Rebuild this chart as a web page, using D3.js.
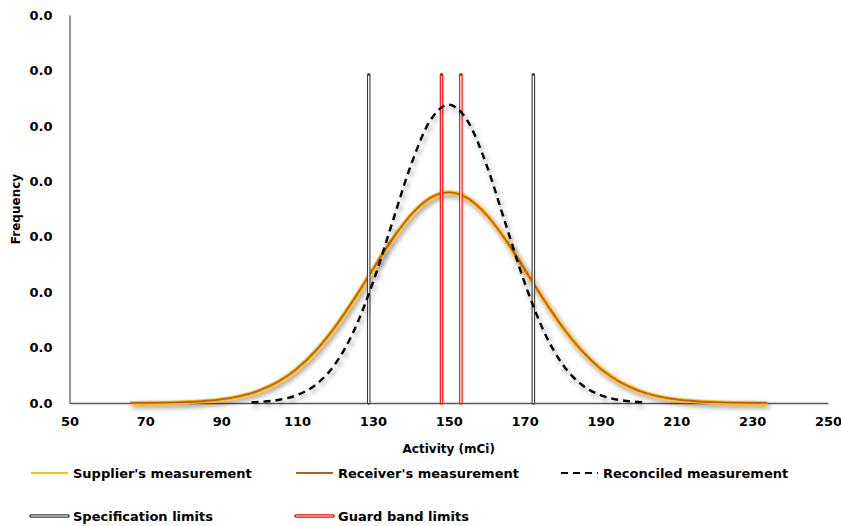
<!DOCTYPE html>
<html>
<head>
<meta charset="utf-8">
<script src="https://cdn.jsdelivr.net/npm/d3@7"></script>
<style>
  html, body { margin: 0; padding: 0; background: #fff; }
  svg { display: block; font-family: "DejaVu Sans", sans-serif; font-weight: bold; }
</style>
</head>
<body>
<svg id="chart" width="841" height="526"></svg>
<script>
// Activity values (mCi) at which the distributions are sampled
const supplierX = [66, 70, 75, 80, 85, 90, 95, 100, 105, 110, 115, 120, 125, 130, 135, 140, 145, 150,
                   155, 160, 165, 170, 175, 180, 185, 190, 195, 200, 205, 210, 215, 220, 225, 230, 234];
// Frequency of the supplier's measurement
const supplierY = [0.000006, 0.000013, 0.000032, 0.000074, 0.000158, 0.00032, 0.00062, 0.00112, 0.00191,
                   0.00310, 0.00474, 0.00685, 0.00935, 0.01207, 0.01472, 0.01696, 0.01847, 0.01900,
                   0.01847, 0.01696, 0.01472, 0.01207, 0.00935, 0.00685, 0.00474, 0.00310, 0.00191,
                   0.00112, 0.00062, 0.00032, 0.000158, 0.000074, 0.000032, 0.000013, 0.000006];
// Frequency of the receiver's measurement (same activity grid)
const receiverY = [0.000006, 0.000013, 0.000032, 0.000074, 0.000158, 0.00032, 0.00062, 0.00112, 0.00191,
                   0.00310, 0.00474, 0.00685, 0.00935, 0.01207, 0.01472, 0.01696, 0.01847, 0.01900,
                   0.01847, 0.01696, 0.01472, 0.01207, 0.00935, 0.00685, 0.00474, 0.00310, 0.00191,
                   0.00112, 0.00062, 0.00032, 0.000158, 0.000074, 0.000032, 0.000013, 0.000006];
// Reconciled measurement
const reconciledX = [98, 100, 105, 110, 115, 120, 125, 130, 135, 140, 145, 150,
                     155, 160, 165, 170, 175, 180, 185, 190, 195, 200, 202];
const reconciledY = [0.000058, 0.000093, 0.000273, 0.000715, 0.00167, 0.00349, 0.00652, 0.01086, 0.01615,
                     0.02144, 0.02542, 0.02690, 0.02542, 0.02144, 0.01615, 0.01086, 0.00652, 0.00349,
                     0.00167, 0.000715, 0.000273, 0.000093, 0.000058];
// Limits (mCi) and the height the limit markers reach
const specLimits = [128.9, 172.3];
const guardLimits = [148.1, 153.2];
const limitTop = 0.0296;

const xTicks = [50, 70, 90, 110, 130, 150, 170, 190, 210, 230, 250];
const yTicks = [0, 0.005, 0.010, 0.015, 0.020, 0.025, 0.030, 0.035];

const legendItems = [
  { label: "Supplier's measurement", kind: "supplier" },
  { label: "Receiver's measurement", kind: "receiver" },
  { label: "Reconciled measurement", kind: "reconciled" },
  { label: "Specification limits", kind: "spec" },
  { label: "Guard band limits", kind: "guard" }
];

const colors = {
  supplier: "#FFC000",
  receiver: "#C55A11",
  reconciled: "#000000",
  spec: "#404040",
  guard: "#FF0000",
  axis: "#595959"
};

const FONT = "'DejaVu Sans', sans-serif";
const svg = d3.select("#chart");
const margin = { left: 69.5, right: 841 - 828, top: 15, bottom: 526 - 403 };
const W = 841, H = 526;

const x = d3.scaleLinear().domain([50, 250]).range([margin.left, W - margin.right]);
const y = d3.scaleLinear().domain([0, 0.035]).range([H - margin.bottom, margin.top]);

// soft grey drop shadow under the distribution curves
const defs = svg.append("defs");
const f = defs.append("filter").attr("id", "shadow")
  .attr("x", "-10%").attr("y", "-10%").attr("width", "130%").attr("height", "140%");
f.append("feDropShadow").attr("dx", 2).attr("dy", 3).attr("stdDeviation", 2.6)
  .attr("flood-color", "#000").attr("flood-opacity", 0.45);

// axes
const xAxis = d3.axisBottom(x).tickValues(xTicks).tickSize(0).tickPadding(14).tickFormat(d3.format("d"));
const yAxis = d3.axisLeft(y).tickValues(yTicks).tickSize(0).tickPadding(17).tickFormat(d3.format(".1f"));

const gx = svg.append("g").attr("transform", `translate(0,${y(0)})`).call(xAxis);
const gy = svg.append("g").attr("transform", `translate(${x(50)},0)`).call(yAxis);
[gx, gy].forEach(g => {
  g.select(".domain").attr("stroke", colors.axis).attr("stroke-width", 1.3);
  g.selectAll("text").attr("font-size", 13).attr("font-weight", "bold")
    .attr("fill", "#000").attr("font-family", FONT);
});

svg.append("text").attr("x", x(150)).attr("y", 453).attr("text-anchor", "middle")
  .attr("font-size", 12).text("Activity (mCi)");
svg.append("text").attr("transform", `translate(20,${(y(0) + y(0.035)) / 2}) rotate(-90)`)
  .attr("text-anchor", "middle").attr("font-size", 12).text("Frequency");

const line = d3.line().x(d => x(d[0])).y(d => y(d[1])).curve(d3.curveMonotoneX);
const plot = svg.append("g");

plot.append("path").datum(d3.zip(supplierX, supplierY))
  .attr("d", line).attr("fill", "none").attr("stroke", colors.supplier)
  .attr("stroke-width", 4).attr("filter", "url(#shadow)");
plot.append("path").datum(d3.zip(supplierX, receiverY))
  .attr("d", line).attr("fill", "none").attr("stroke", colors.receiver).attr("stroke-width", 1.8);

// double-line limit markers
function limitMarker(g, xs, color) {
  xs.forEach(v => {
    g.append("line").attr("x1", x(v)).attr("x2", x(v)).attr("y1", y(limitTop)).attr("y2", y(0))
      .attr("stroke", color).attr("stroke-width", 3.6).attr("stroke-linecap", "round");
    g.append("line").attr("x1", x(v)).attr("x2", x(v)).attr("y1", y(limitTop) + 1).attr("y2", y(0))
      .attr("stroke", "#fff").attr("stroke-width", 1.3);
  });
}
limitMarker(plot, specLimits, colors.spec);
limitMarker(plot, guardLimits, colors.guard);

plot.append("path").datum(d3.zip(reconciledX, reconciledY))
  .attr("d", line).attr("fill", "none").attr("stroke", colors.reconciled)
  .attr("stroke-width", 2.4).attr("stroke-dasharray", "7,5").attr("filter", "url(#shadow)");

// legend
const legendPos = [[31, 473], [296, 473], [561, 473], [31, 516], [296, 516]];
legendItems.forEach((item, i) => {
  const [lx, ly] = legendPos[i];
  const g = svg.append("g").attr("transform", `translate(${lx},${ly})`);
  const len = 37;
  if (item.kind === "supplier" || item.kind === "receiver") {
    g.append("line").attr("x1", 0).attr("x2", len).attr("stroke", colors[item.kind]).attr("stroke-width", 2.2);
  } else if (item.kind === "reconciled") {
    g.append("line").attr("x1", 0).attr("x2", len).attr("stroke", "#000").attr("stroke-width", 2)
      .attr("stroke-dasharray", "7,5");
  } else {
    g.append("line").attr("x1", 0).attr("x2", len).attr("stroke", colors[item.kind])
      .attr("stroke-width", 3.6).attr("stroke-linecap", "round");
    g.append("line").attr("x1", 0).attr("x2", len).attr("stroke", "#fff").attr("stroke-width", 1.2);
  }
  g.append("text").attr("x", len + 5).attr("y", 0).attr("dy", "0.35em")
    .attr("font-size", 13).text(item.label);
});
</script>
</body>
</html>
